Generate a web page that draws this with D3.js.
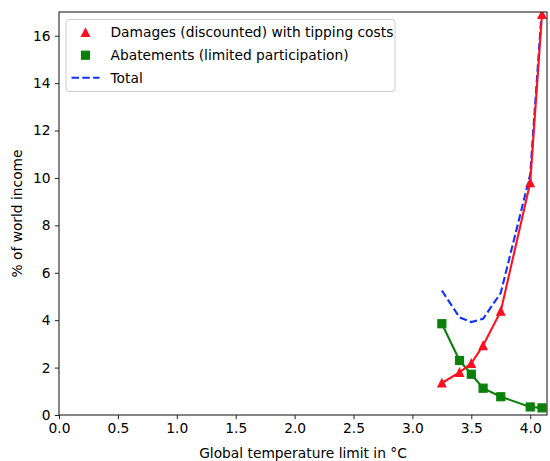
<!DOCTYPE html>
<html>
<head>
<meta charset="utf-8">
<script src="https://cdn.jsdelivr.net/npm/d3@7"></script>
<style>
  html, body { margin: 0; padding: 0; background: #fff; }
  svg { display: block; font-family: "DejaVu Sans", sans-serif; }
</style>
</head>
<body>
<svg id="chart" width="550" height="461"></svg>
<script>
// ---- data ----
const temps = [3.25, 3.4, 3.5, 3.6, 3.75, 4.0, 4.1];
const damages = [1.35, 1.8, 2.18, 2.93, 4.38, 9.8, 16.9];
const abatements = [3.85, 2.3, 1.72, 1.13, 0.77, 0.34, 0.3];
const total = [5.25, 4.12, 3.92, 4.06, 5.15, 10.15, 17.2];
const xTicks = [0, 0.5, 1.0, 1.5, 2.0, 2.5, 3.0, 3.5, 4.0];
const yTicks = [0, 2, 4, 6, 8, 10, 12, 14, 16];
const legendLabels = ["Damages (discounted) with tipping costs", "Abatements (limited participation)", "Total"];
const xLabel = "Global temperature limit in °C";
const yLabel = "% of world income";

// ---- layout ----
const W = 550, H = 461;
const m = { left: 59, top: 12, right: 547, bottom: 415 };
const fs = 13.8;
const red = "#ff1020", green = "#0a800a", blue = "#1030ff";
const lw = 2.1;

const svg = d3.select("#chart");
const x = d3.scaleLinear().domain([0, 4.1425]).range([m.left, m.right]);
const y = d3.scaleLinear().domain([0, 17]).range([m.bottom, m.top]);

svg.append("defs").append("clipPath").attr("id", "clip")
  .append("rect").attr("x", m.left).attr("y", m.top)
  .attr("width", m.right - m.left).attr("height", m.bottom - m.top);

const plot = svg.append("g").attr("clip-path", "url(#clip)");

const line = (vals) => d3.line().x((d, i) => x(temps[i])).y(d => y(d))(vals);

// total dashed
plot.append("path").attr("d", line(total))
  .attr("fill", "none").attr("stroke", blue).attr("stroke-width", lw)
  .attr("stroke-dasharray", "7.5,3.3");

// abatements
plot.append("path").attr("d", line(abatements))
  .attr("fill", "none").attr("stroke", green).attr("stroke-width", lw);
// damages
plot.append("path").attr("d", line(damages))
  .attr("fill", "none").attr("stroke", red).attr("stroke-width", lw);

const ms = 8;
const triPath = (cx, cy, s) => {
  const h = s / 2;
  return `M${cx},${cy - h}L${cx - h},${cy + h}L${cx + h},${cy + h}Z`;
};
plot.selectAll(".tri").data(damages).join("path").attr("class", "tri")
  .attr("d", (d, i) => triPath(x(temps[i]), y(d), ms))
  .attr("fill", red).attr("stroke", red).attr("stroke-width", 1.2);

plot.selectAll(".sq").data(abatements).join("rect").attr("class", "sq")
  .attr("x", (d, i) => x(temps[i]) - ms / 2).attr("y", d => y(d) - ms / 2)
  .attr("width", ms).attr("height", ms)
  .attr("fill", green).attr("stroke", green).attr("stroke-width", 1.2);

// ---- axes ----
const xAxis = d3.axisBottom(x).tickValues(xTicks).tickFormat(d3.format(".1f")).tickSize(4.2).tickPadding(4.2);
const yAxis = d3.axisLeft(y).tickValues(yTicks).tickFormat(d3.format("d")).tickSize(4.2).tickPadding(4.2);

const gx = svg.append("g").attr("transform", `translate(0,${m.bottom})`).call(xAxis);
const gy = svg.append("g").attr("transform", `translate(${m.left},0)`).call(yAxis);
[gx, gy].forEach(g => {
  g.select(".domain").remove();
  g.selectAll("line").attr("stroke", "#222").attr("stroke-width", 1);
  g.selectAll("text").attr("font-size", fs).attr("fill", "#000").attr("font-family", "DejaVu Sans");
});

// frame
svg.append("rect").attr("x", m.left).attr("y", m.top)
  .attr("width", m.right - m.left).attr("height", m.bottom - m.top)
  .attr("fill", "none").attr("stroke", "#222").attr("stroke-width", 1.1);

// axis labels
svg.append("text").attr("x", (m.left + m.right) / 2).attr("y", 458)
  .attr("text-anchor", "middle").attr("font-size", fs).text(xLabel);
svg.append("text").attr("transform", `translate(22,${(m.top + m.bottom) / 2}) rotate(-90)`)
  .attr("text-anchor", "middle").attr("font-size", fs).text(yLabel);

// ---- legend ----
const lg = svg.append("g");
lg.append("rect").attr("x", 66).attr("y", 19.5).attr("width", 329).attr("height", 72)
  .attr("rx", 3).attr("fill", "#fff").attr("fill-opacity", 0.8)
  .attr("stroke", "#cccccc").attr("stroke-width", 1);
const rowY = [32.5, 55.2, 77.8];
const hx0 = 71.5, hx1 = 99.5, hcx = (hx0 + hx1) / 2;
lg.append("path").attr("d", triPath(hcx, rowY[0], ms))
  .attr("fill", red).attr("stroke", red).attr("stroke-width", 1.2);
lg.append("rect").attr("x", hcx - ms / 2).attr("y", rowY[1] - ms / 2).attr("width", ms).attr("height", ms)
  .attr("fill", green).attr("stroke", green).attr("stroke-width", 1.2);
lg.append("line").attr("x1", hx0).attr("x2", hx1).attr("y1", rowY[2]).attr("y2", rowY[2])
  .attr("stroke", blue).attr("stroke-width", lw).attr("stroke-dasharray", "7.5,3.3");
legendLabels.forEach((t, i) => {
  lg.append("text").attr("x", 110.5).attr("y", rowY[i]).attr("dy", "0.36em")
    .attr("font-size", fs).attr("fill", "#000").text(t);
});
</script>
</body>
</html>
